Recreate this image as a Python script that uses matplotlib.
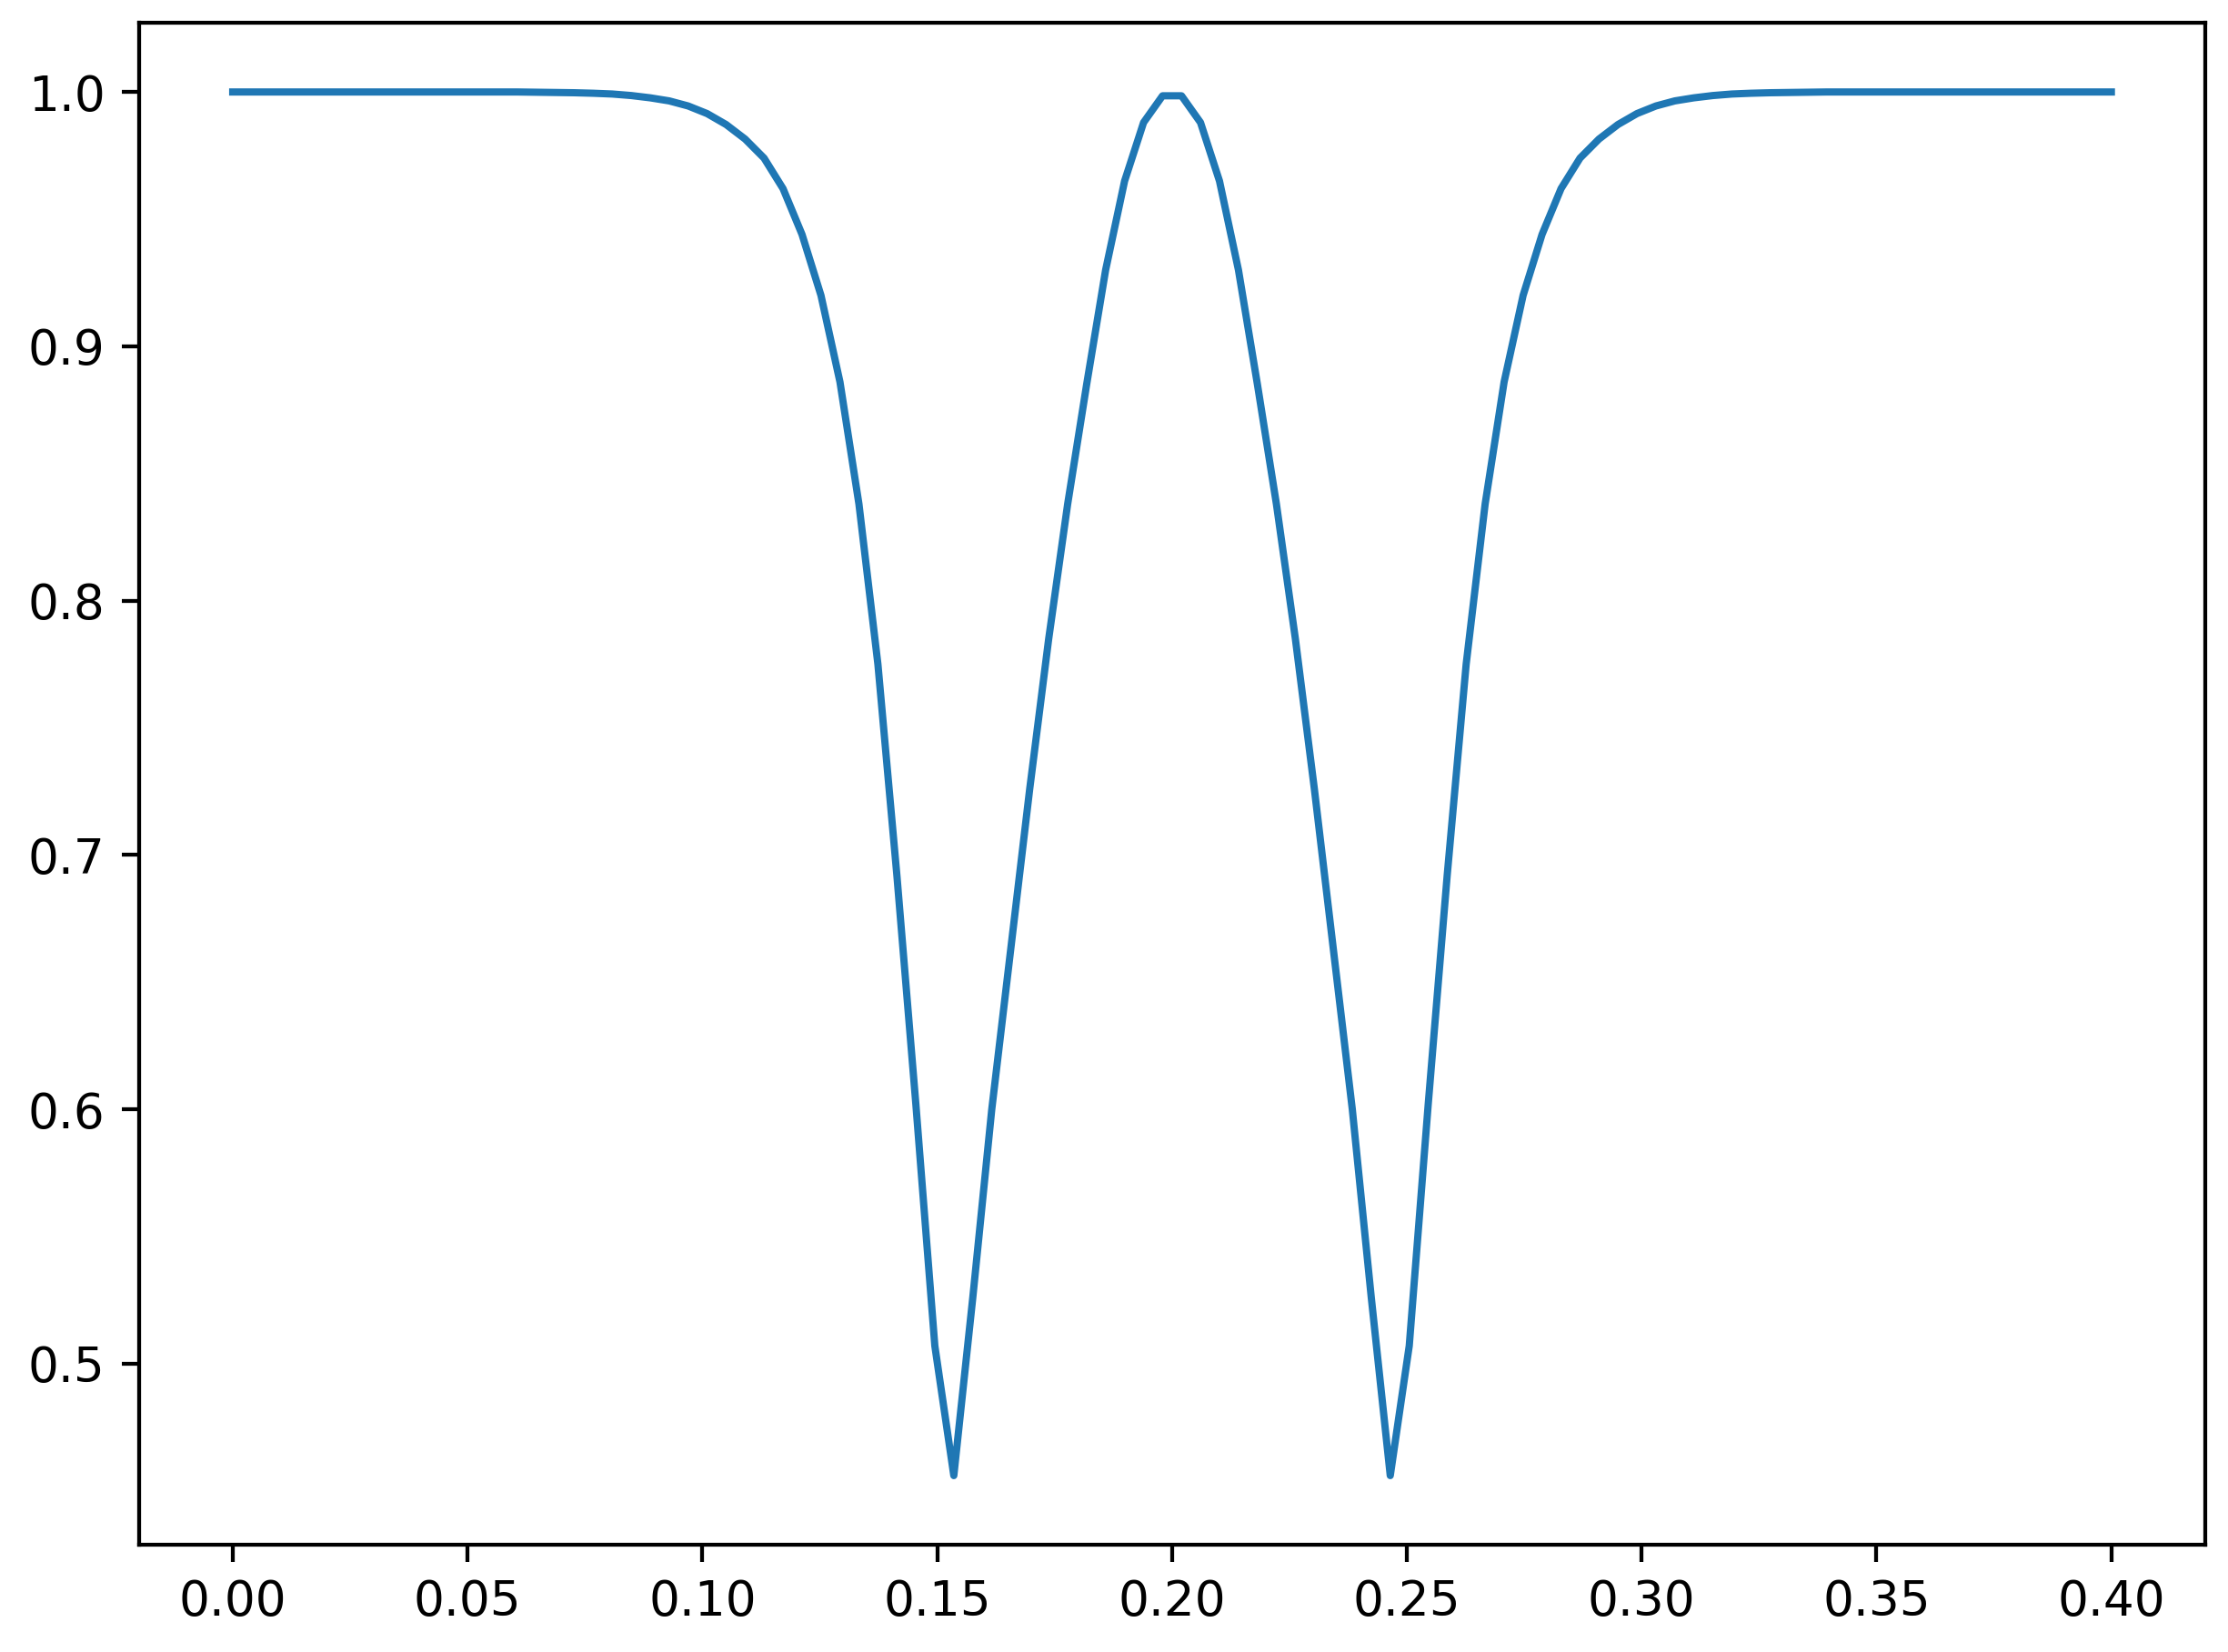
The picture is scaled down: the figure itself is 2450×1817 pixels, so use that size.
import numpy as np
import matplotlib
matplotlib.use("Agg")
import matplotlib.pyplot as plt

# sample grid: 100 evenly spaced points from 0 to 0.4
x_start, x_end, n_points = 0.0, 0.4, 100

# curve values, left half then right half
y_left = [
    1.0, 1.0, 1.0, 1.0, 1.0, 1.0, 1.0, 1.0, 1.0, 1.0,
    1.0, 1.0, 1.0, 1.0, 1.0, 1.0, 0.9999, 0.9998, 0.9997, 0.9995,
    0.9992, 0.9986, 0.9977, 0.9965, 0.9945, 0.9915, 0.9872, 0.9815, 0.9740, 0.9620,
    0.9440, 0.9200, 0.8860, 0.8380, 0.7750, 0.6920, 0.6020, 0.5070, 0.4560, 0.5260,
    0.6000, 0.6630, 0.7260, 0.7850, 0.8380, 0.8850, 0.9300, 0.9650, 0.9880, 0.9985,
]
y_right = [
    0.9985, 0.9880, 0.9650, 0.9300, 0.8850, 0.8380, 0.7850, 0.7260, 0.6630, 0.6000,
    0.5260, 0.4560, 0.5070, 0.6020, 0.6920, 0.7750, 0.8380, 0.8860, 0.9200, 0.9440,
    0.9620, 0.9740, 0.9815, 0.9872, 0.9915, 0.9945, 0.9965, 0.9977, 0.9986, 0.9992,
    0.9995, 0.9997, 0.9998, 0.9999, 1.0, 1.0, 1.0, 1.0, 1.0, 1.0,
    1.0, 1.0, 1.0, 1.0, 1.0, 1.0, 1.0, 1.0, 1.0, 1.0,
]

x = np.linspace(x_start, x_end, n_points)
y = np.array(y_left + y_right)

fig = plt.figure(figsize=(2450 / 383, 1817 / 383), dpi=383)
ax = fig.add_axes([0.0623, 0.0649, 0.9275, 0.9213])
ax.plot(x, y)

fig.savefig("out.png", dpi=383)
